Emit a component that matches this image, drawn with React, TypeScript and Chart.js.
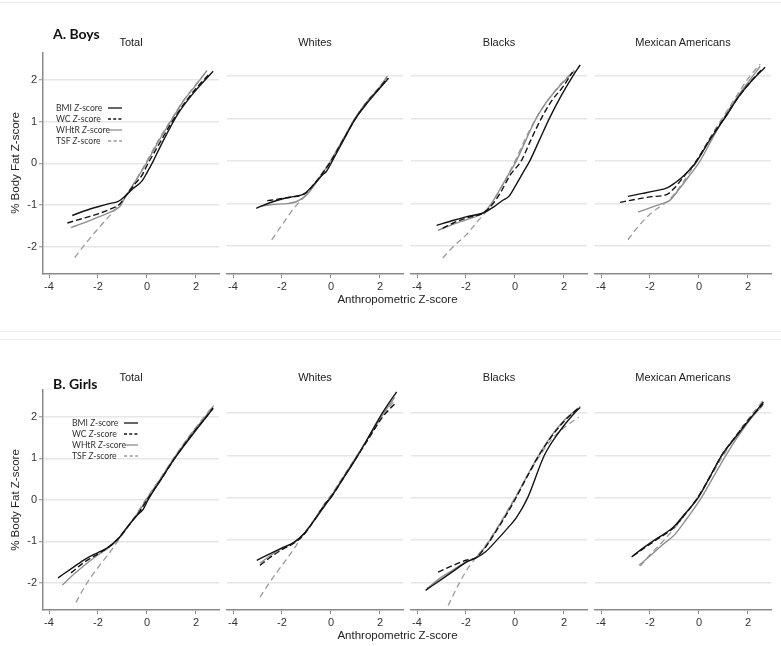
import React, { useEffect, useRef } from 'react';
import { Chart, registerables } from 'chart.js';

Chart.register(...registerables);

type Pt = [number, number];

// ---------- axis / category data ----------
const xTicks = [-4, -2, 0, 2];
const yTicks = [-2, -1, 0, 1, 2];
const X_MIN = -4.245;
const X_MAX = 2.94;
const Y_MIN = -2.655;
const Y_MAX = 2.66;
const groups = ['Total', 'Whites', 'Blacks', 'Mexican Americans'];
const measures = ['BMI', 'WC', 'WHtR', 'TSF'];

// ---------- Boys ----------
const boysTotalBMI: Pt[] = [[-3.05,-1.25],[-2.5,-1.13],[-2.0,-1.04],[-1.5,-0.96],[-1.2,-0.92],[-0.9,-0.79],[-0.6,-0.62],[-0.2,-0.42],[0.0,-0.22],[0.25,0.05],[0.6,0.47],[1.2,1.13],[1.6,1.47],[2.0,1.76],[2.7,2.21]];
const boysTotalWC: Pt[] = [[-3.25,-1.43],[-2.5,-1.3],[-2.0,-1.21],[-1.5,-1.1],[-1.1,-0.97],[-0.9,-0.8],[-0.5,-0.5],[-0.2,-0.28],[0.0,-0.05],[0.5,0.47],[1.0,0.98],[1.5,1.42],[2.0,1.8],[2.52,2.13]];
const boysTotalWHtR: Pt[] = [[-3.1,-1.54],[-2.5,-1.41],[-2.0,-1.29],[-1.5,-1.17],[-1.1,-1.03],[-0.9,-0.82],[-0.5,-0.45],[-0.2,-0.17],[0.0,0.03],[0.5,0.56],[1.0,1.04],[1.5,1.51],[2.0,1.88],[2.45,2.23]];
const boysTotalTSF: Pt[] = [[-2.95,-2.26],[-2.5,-1.92],[-2.0,-1.57],[-1.5,-1.24],[-1.0,-0.9],[-0.7,-0.64],[-0.4,-0.35],[0.0,0.06],[0.5,0.59],[1.0,1.06],[1.5,1.52],[2.0,1.9],[2.45,2.22]];

const boysWhitesBMI: Pt[] = [[-3.05,-1.11],[-2.5,-0.98],[-2.0,-0.89],[-1.5,-0.83],[-1.1,-0.77],[-0.7,-0.55],[-0.3,-0.3],[-0.2,-0.25],[0.05,0.0],[0.5,0.48],[1.0,1.0],[1.5,1.38],[2.0,1.72],[2.35,1.95]];
const boysWhitesWC: Pt[] = [[-2.6,-0.93],[-2.2,-0.9],[-1.8,-0.86],[-1.4,-0.83],[-1.0,-0.74],[-0.7,-0.55],[-0.3,-0.25],[0.0,0.0],[0.5,0.5],[1.0,1.0],[1.5,1.4],[2.0,1.73],[2.3,1.95]];
const boysWhitesWHtR: Pt[] = [[-2.9,-1.06],[-2.4,-1.02],[-1.8,-1.0],[-1.4,-0.95],[-1.0,-0.8],[-0.7,-0.58],[-0.3,-0.25],[0.0,0.02],[0.5,0.52],[1.0,1.02],[1.5,1.42],[2.0,1.75],[2.3,2.0]];
const boysWhitesTSF: Pt[] = [[-2.42,-1.85],[-2.0,-1.5],[-1.5,-1.1],[-1.0,-0.78],[-0.7,-0.57],[-0.3,-0.23],[0.0,0.03],[0.5,0.53],[1.0,1.03],[1.5,1.43],[2.0,1.76],[2.3,1.98]];

const boysBlacksBMI: Pt[] = [[-3.2,-1.51],[-2.5,-1.39],[-2.0,-1.31],[-1.3,-1.22],[-0.85,-1.07],[-0.5,-0.92],[-0.25,-0.83],[0.0,-0.6],[0.3,-0.3],[0.6,0.0],[1.0,0.5],[1.4,1.0],[1.9,1.55],[2.36,2.0],[2.66,2.26]];
const boysBlacksWC: Pt[] = [[-2.95,-1.58],[-2.5,-1.45],[-2.0,-1.34],[-1.3,-1.22],[-1.0,-1.07],[-0.6,-0.75],[-0.2,-0.33],[0.25,0.0],[0.65,0.5],[1.07,1.0],[1.5,1.42],[2.0,1.78],[2.35,2.1]];
const boysBlacksWHtR: Pt[] = [[-3.15,-1.63],[-2.5,-1.48],[-2.0,-1.38],[-1.3,-1.22],[-1.0,-1.03],[-0.6,-0.65],[-0.2,-0.25],[0.05,0.0],[0.45,0.5],[0.86,1.0],[1.3,1.4],[1.8,1.75],[2.43,2.12]];
const boysBlacksTSF: Pt[] = [[-2.95,-2.28],[-2.5,-2.0],[-2.0,-1.74],[-1.5,-1.4],[-1.2,-1.2],[-0.9,-0.95],[-0.4,-0.45],[0.0,0.0],[0.4,0.5],[0.85,1.0],[1.3,1.4],[1.8,1.77],[2.43,2.14]];

const boysMexBMI: Pt[] = [[-2.9,-0.83],[-2.3,-0.76],[-1.8,-0.7],[-1.3,-0.63],[-1.0,-0.52],[-0.6,-0.33],[-0.15,-0.05],[0.5,0.55],[1.1,1.05],[1.6,1.5],[2.2,1.92],[2.7,2.21]];
const boysMexWC: Pt[] = [[-3.22,-0.97],[-2.6,-0.9],[-2.0,-0.84],[-1.3,-0.78],[-1.0,-0.63],[-0.6,-0.35],[-0.15,-0.03],[0.5,0.57],[1.1,1.07],[1.6,1.5],[2.2,1.93],[2.6,2.18]];
const boysMexWHtR: Pt[] = [[-2.48,-1.2],[-2.0,-1.1],[-1.5,-1.0],[-1.2,-0.93],[-0.8,-0.65],[-0.4,-0.35],[0.04,0.0],[0.5,0.48],[1.0,1.0],[1.5,1.45],[2.0,1.85],[2.5,2.23]];
const boysMexTSF: Pt[] = [[-2.9,-1.85],[-2.5,-1.55],[-2.0,-1.25],[-1.5,-1.03],[-1.2,-0.9],[-0.8,-0.62],[-0.4,-0.28],[0.0,0.08],[0.5,0.6],[1.0,1.05],[1.5,1.5],[2.08,2.0],[2.5,2.28]];

// ---------- Girls ----------
const girlsTotalBMI: Pt[] = [[-3.63,-1.88],[-3.0,-1.62],[-2.5,-1.42],[-2.0,-1.27],[-1.65,-1.17],[-1.2,-0.95],[-0.8,-0.65],[-0.4,-0.37],[-0.15,-0.22],[0.04,0.0],[0.6,0.52],[1.13,1.0],[1.8,1.53],[2.42,2.0],[2.7,2.2]];
const girlsTotalWC: Pt[] = [[-3.1,-1.76],[-2.6,-1.52],[-2.0,-1.3],[-1.4,-1.06],[-1.1,-0.88],[-0.7,-0.58],[-0.3,-0.28],[0.0,0.0],[0.6,0.52],[1.13,1.0],[1.8,1.55],[2.42,2.0],[2.7,2.22]];
const girlsTotalWHtR: Pt[] = [[-3.45,-2.05],[-3.0,-1.8],[-2.5,-1.55],[-2.0,-1.33],[-1.5,-1.12],[-1.1,-0.9],[-0.7,-0.58],[-0.3,-0.25],[0.0,0.03],[0.6,0.55],[1.1,1.0],[1.8,1.58],[2.4,2.02],[2.72,2.27]];
const girlsTotalTSF: Pt[] = [[-2.9,-2.47],[-2.5,-2.05],[-2.0,-1.63],[-1.5,-1.25],[-1.1,-0.92],[-0.7,-0.58],[-0.3,-0.22],[0.0,0.05],[0.6,0.57],[1.1,1.02],[1.8,1.6],[2.4,2.05],[2.7,2.27]];

const girlsWhitesBMI: Pt[] = [[-3.03,-1.48],[-2.5,-1.33],[-2.0,-1.19],[-1.5,-1.05],[-1.1,-0.85],[-0.7,-0.55],[-0.24,-0.18],[0.05,0.05],[0.5,0.45],[1.1,1.0],[1.6,1.5],[2.1,2.0],[2.68,2.5]];
const girlsWhitesWC: Pt[] = [[-2.9,-1.6],[-2.5,-1.42],[-2.0,-1.23],[-1.5,-1.07],[-1.1,-0.87],[-0.7,-0.55],[-0.24,-0.15],[0.05,0.05],[0.5,0.46],[1.1,1.0],[1.6,1.45],[2.1,1.9],[2.68,2.26]];
const girlsWhitesWHtR: Pt[] = [[-2.9,-1.55],[-2.5,-1.38],[-2.0,-1.2],[-1.5,-1.06],[-1.1,-0.86],[-0.7,-0.55],[-0.24,-0.16],[0.05,0.07],[0.5,0.48],[1.1,1.02],[1.6,1.48],[2.1,1.95],[2.6,2.37]];
const girlsWhitesTSF: Pt[] = [[-2.9,-2.35],[-2.5,-2.0],[-2.0,-1.6],[-1.5,-1.2],[-1.13,-0.87],[-0.7,-0.53],[-0.3,-0.17],[0.05,0.1],[0.5,0.5],[1.1,1.03],[1.6,1.48],[2.1,1.92],[2.6,2.3]];

const girlsBlacksBMI: Pt[] = [[-3.65,-2.19],[-3.0,-1.93],[-2.5,-1.73],[-2.0,-1.53],[-1.57,-1.42],[-1.2,-1.28],[-0.75,-1.01],[-0.3,-0.72],[0.05,-0.48],[0.52,0.0],[1.2,1.0],[1.8,1.55],[2.43,2.0],[2.66,2.13]];
const girlsBlacksWC: Pt[] = [[-3.14,-1.76],[-2.6,-1.62],[-2.0,-1.48],[-1.6,-1.42],[-1.2,-1.17],[-0.8,-0.82],[-0.4,-0.45],[0.0,-0.05],[0.5,0.5],[1.0,1.02],[1.5,1.45],[2.0,1.8],[2.66,2.15]];
const girlsBlacksWHtR: Pt[] = [[-3.6,-2.15],[-3.0,-1.88],[-2.5,-1.7],[-2.0,-1.52],[-1.6,-1.42],[-1.2,-1.15],[-0.8,-0.8],[-0.4,-0.42],[0.0,-0.02],[0.5,0.52],[1.0,1.03],[1.5,1.47],[2.0,1.82],[2.6,2.12]];
const girlsBlacksTSF: Pt[] = [[-2.73,-2.55],[-2.3,-2.05],[-1.9,-1.65],[-1.57,-1.4],[-1.2,-1.13],[-0.8,-0.78],[-0.4,-0.4],[0.0,0.0],[0.5,0.5],[1.0,0.98],[1.5,1.38],[2.0,1.65],[2.6,1.9]];

const girlsMexBMI: Pt[] = [[-2.75,-1.4],[-2.3,-1.2],[-1.8,-1.0],[-1.4,-0.85],[-1.05,-0.7],[-0.6,-0.4],[-0.03,0.0],[0.5,0.55],[0.93,1.0],[1.5,1.43],[2.0,1.8],[2.63,2.26]];
const girlsMexWC: Pt[] = [[-2.7,-1.38],[-2.3,-1.22],[-1.8,-1.02],[-1.4,-0.87],[-1.05,-0.72],[-0.6,-0.42],[-0.03,0.02],[0.5,0.55],[0.93,1.0],[1.5,1.45],[2.0,1.82],[2.63,2.22]];
const girlsMexWHtR: Pt[] = [[-2.45,-1.6],[-2.0,-1.38],[-1.5,-1.12],[-1.0,-0.88],[-0.5,-0.5],[0.1,0.0],[0.6,0.5],[1.1,1.0],[1.6,1.45],[2.1,1.85],[2.6,2.18]];
const girlsMexTSF: Pt[] = [[-2.4,-1.62],[-2.0,-1.35],[-1.5,-1.05],[-1.0,-0.72],[-0.5,-0.35],[0.0,0.05],[0.5,0.52],[1.0,1.0],[1.5,1.45],[2.0,1.85],[2.6,2.28]];

const boysPanels: Pt[][][] = [
  [boysTotalBMI, boysTotalWC, boysTotalWHtR, boysTotalTSF],
  [boysWhitesBMI, boysWhitesWC, boysWhitesWHtR, boysWhitesTSF],
  [boysBlacksBMI, boysBlacksWC, boysBlacksWHtR, boysBlacksTSF],
  [boysMexBMI, boysMexWC, boysMexWHtR, boysMexTSF],
];
const girlsPanels: Pt[][][] = [
  [girlsTotalBMI, girlsTotalWC, girlsTotalWHtR, girlsTotalTSF],
  [girlsWhitesBMI, girlsWhitesWC, girlsWhitesWHtR, girlsWhitesTSF],
  [girlsBlacksBMI, girlsBlacksWC, girlsBlacksWHtR, girlsBlacksTSF],
  [girlsMexBMI, girlsMexWC, girlsMexWHtR, girlsMexTSF],
];

// ---------- styles ----------
const lineStyles = [
  { color: '#141414', dash: [] as number[], width: 1.4 },
  { color: '#141414', dash: [6, 3], width: 1.4 },
  { color: '#8f8f8f', dash: [] as number[], width: 1.4 },
  { color: '#9a9a9a', dash: [6, 4], width: 1.3 },
];
const AXIS = '#8a8a8a';
const GRID = '#e6e6e6';
const TICKFONT = { family: 'Liberation Sans, Arial, sans-serif', size: 11 };
const panelLefts = [43, 227, 411, 595];
const PANEL_W = 176;

type PanelProps = { series: Pt[][]; left: number; top: number; height: number; showY: boolean };

function Panel({ series, left, top, height, showY }: PanelProps) {
  const ref = useRef<HTMLCanvasElement | null>(null);
  const YW = showY ? 34 : 0;
  const PL = 6, PT = 4, PR = 4, XH = 24;
  const cw = PL + YW + PANEL_W + PR;
  const ch = PT + height + XH;
  useEffect(() => {
    if (!ref.current) return;
    const chart = new Chart(ref.current, {
      type: 'line',
      data: {
        datasets: series.map((pts, i) => ({
          label: measures[i],
          data: pts.map(([x, y]) => ({ x, y })),
          borderColor: lineStyles[i].color,
          borderDash: lineStyles[i].dash,
          borderWidth: lineStyles[i].width,
          pointRadius: 0,
          fill: false,
          tension: 0.3,
          cubicInterpolationMode: 'monotone' as const,
        })),
      },
      options: {
        animation: false,
        responsive: false,
        events: [],
        layout: { padding: { left: PL, top: PT, right: PR, bottom: 0 } },
        plugins: { legend: { display: false }, tooltip: { enabled: false }, title: { display: false } },
        scales: {
          x: {
            type: 'linear',
            min: X_MIN,
            max: X_MAX,
            afterBuildTicks: (s: any) => { s.ticks = xTicks.map((v) => ({ value: v })); },
            afterFit: (s: any) => { s.height = XH; },
            grid: { display: true, drawOnChartArea: false, drawTicks: true, tickLength: 4, color: AXIS, tickColor: AXIS, tickWidth: 1 },
            border: { display: true, color: AXIS, width: 1.5 },
            ticks: { padding: 2, color: '#333', font: TICKFONT, maxRotation: 0, autoSkip: false },
          },
          y: {
            type: 'linear',
            min: Y_MIN,
            max: Y_MAX,
            afterBuildTicks: (s: any) => { s.ticks = yTicks.map((v) => ({ value: v })); },
            afterFit: (s: any) => { s.width = YW; },
            grid: { display: true, drawOnChartArea: true, drawTicks: showY, tickLength: 4, color: GRID, lineWidth: 1.5, tickColor: AXIS, tickWidth: 1 },
            border: { display: showY, color: AXIS, width: 1.5 },
            ticks: { display: showY, padding: 2, color: '#333', font: TICKFONT, autoSkip: false },
          },
        },
      } as any,
    });
    return () => chart.destroy();
  }, []);
  return (
    <canvas
      ref={ref}
      width={cw}
      height={ch}
      style={{ position: 'absolute', left: left - PL - YW, top: top - PT, width: cw, height: ch }}
    />
  );
}

const legendFont = 'Lato, "Open Sans", sans-serif';

function LegendSample({ i }: { i: number }) {
  const st = lineStyles[i];
  const dash = i === 1 ? '3 2.2' : i === 3 ? '3.2 2.4' : undefined;
  return (
    <svg width={14} height={4} style={{ display: 'block' }}>
      <line x1={0} y1={2} x2={14} y2={2} stroke={st.color} strokeWidth={1.3} strokeDasharray={dash} />
    </svg>
  );
}

function Legend({ textLeft, y0, lineLeft }: { textLeft: number; y0: number; lineLeft: number }) {
  const step = 10.8;
  return (
    <>
      {measures.map((m, i) => (
        <React.Fragment key={m}>
          <div
            style={{
              position: 'absolute', left: textLeft, top: y0 + i * step - 6, height: 12, lineHeight: '12px',
              fontFamily: legendFont, fontSize: 8.6, color: '#333', whiteSpace: 'nowrap',
            }}
          >
            {m} <i>Z</i>-score
          </div>
          <div style={{ position: 'absolute', left: lineLeft, top: y0 + i * step - 2 }}>
            <LegendSample i={i} />
          </div>
        </React.Fragment>
      ))}
    </>
  );
}

function Text({ x, y, children, style }: { x: number; y: number; children: React.ReactNode; style?: React.CSSProperties }) {
  return (
    <div
      style={{
        position: 'absolute', left: x, top: y, transform: 'translate(-50%, -50%)', whiteSpace: 'nowrap',
        fontFamily: 'Liberation Sans, Arial, sans-serif', fontSize: 11, color: '#222', lineHeight: 1, ...style,
      }}
    >
      {children}
    </div>
  );
}

function Row({ panels, title, areaTop, areaH, titleY, subY, legend }: {
  panels: Pt[][][]; title: string; areaTop: number; areaH: number; titleY: number; subY: number;
  legend: { textLeft: number; y0: number; lineLeft: number };
}) {
  return (
    <>
      {panels.map((series, k) => (
        <Panel key={k} series={series} left={panelLefts[k]} top={areaTop} height={areaH} showY={k === 0} />
      ))}
      {groups.map((g, k) => (
        <Text key={g} x={panelLefts[k] + PANEL_W / 2} y={subY}>{g}</Text>
      ))}
      <div
        style={{
          position: 'absolute', left: 53, top: titleY - 9, height: 18, lineHeight: '18px',
          fontFamily: 'Lato, "Open Sans", sans-serif', fontWeight: 700, fontSize: 14, color: '#111', whiteSpace: 'nowrap',
        }}
      >
        {title}
      </div>
      <div
        style={{
          position: 'absolute', left: 15 - 60, top: Math.round(areaTop + areaH / 2 + 2) - 7, width: 120, height: 14,
          lineHeight: '14px', textAlign: 'center', transform: 'rotate(-90deg)', whiteSpace: 'nowrap',
          fontFamily: 'Liberation Sans, Arial, sans-serif', fontSize: 11.5, color: '#222',
        }}
      >
        % Body Fat Z-score
      </div>
      <Text x={397.5} y={areaTop + areaH + 26} style={{ fontSize: 11.5 }}>Anthropometric Z-score</Text>
      <Legend {...legend} />
    </>
  );
}

export default function App() {
  return (
    <div style={{ position: 'absolute', left: 0, top: 0, width: 781, height: 646, background: '#fff', overflow: 'hidden' }}>
      <div style={{ position: 'absolute', left: 0, top: 2, width: 781, height: 1, background: '#e8e8e8' }} />
      <div style={{ position: 'absolute', left: 0, top: 331, width: 781, height: 1, background: '#e8e8e8' }} />
      <div style={{ position: 'absolute', left: 0, top: 339, width: 781, height: 1, background: '#ededed' }} />
      <Row
        panels={boysPanels}
        title="A. Boys"
        areaTop={48}
        areaH={226}
        titleY={33.5}
        subY={41.7}
        legend={{ textLeft: 56, y0: 108.3, lineLeft: 108 }}
      />
      <Row
        panels={girlsPanels}
        title="B. Girls"
        areaTop={385}
        areaH={225}
        titleY={383.5}
        subY={377.3}
        legend={{ textLeft: 72, y0: 423.3, lineLeft: 124 }}
      />
    </div>
  );
}
